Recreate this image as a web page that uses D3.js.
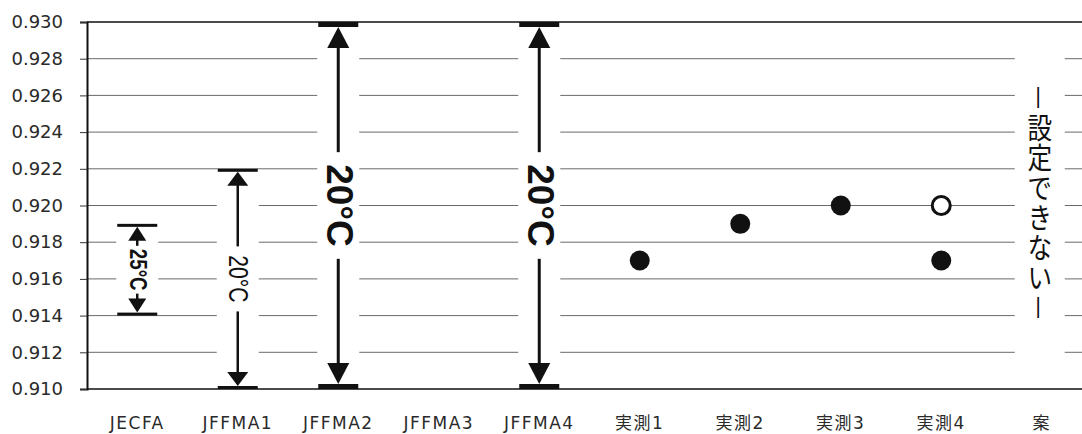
<!DOCTYPE html>
<html><head><meta charset="utf-8">
<script src="https://cdn.jsdelivr.net/npm/d3@7"></script>
<style>
html,body{margin:0;padding:0;background:#fff;}
svg{display:block;}
</style></head>
<body><svg id="c" width="1082" height="434"></svg>
<script>
// ---- data ----
const categories = ["JECFA","JFFMA1","JFFMA2","JFFMA3","JFFMA4","実測1","実測2","実測3","実測4","案"];
const rangeCats  = ["JECFA","JFFMA1","JFFMA2","JFFMA4"];
const rangeLow   = [0.914, 0.910, 0.910, 0.910];
const rangeHigh  = [0.919, 0.922, 0.930, 0.930];
const rangeLabel = ["25°C","20°C","20°C","20°C"];
const pointCats   = ["実測1","実測2","実測3","実測4","実測4"];
const pointValues = [0.917, 0.919, 0.920, 0.917, 0.920];
const pointFilled = [true, true, true, true, false];
const yTicks = [0.910,0.912,0.914,0.916,0.918,0.920,0.922,0.924,0.926,0.928,0.930];
const noteCat = "案";
const noteText = "－設定できない－";

// ---- styles per range annotation ----
const rangeStyle = {
  "JECFA":  {bar:3, lw:2.5, tw:18, th:14, fs:24, sx:0.78, weight:"bold",   gap:3},
  "JFFMA1": {bar:3, lw:2.5, tw:21, th:14, fs:27, sx:0.78, weight:"normal", gap:9},
  "JFFMA2": {bar:5, lw:3,   tw:22, th:21, fs:37, sx:1,    weight:"bold",   gap:12},
  "JFFMA4": {bar:5, lw:3,   tw:22, th:21, fs:37, sx:1,    weight:"bold",   gap:12}
};

const svg = d3.select("#c");
const x = d3.scaleBand().domain(categories).range([87, 1092]).padding(0);
const y = d3.scaleLinear().domain([0.910, 0.930]).range([389, 22]);
const cx = c => x(c) + x.bandwidth()/2;

// gridlines
svg.append("g").selectAll("line").data(yTicks).join("line")
  .attr("x1", 87).attr("x2", 1082)
  .attr("y1", d => y(d)).attr("y2", d => y(d))
  .attr("stroke", d => (d === 0.930 || d === 0.910) ? "#111" : "#6a6a6a")
  .attr("stroke-width", d => (d === 0.930 || d === 0.910) ? 1.6 : 1);

// y axis
const yAxis = d3.axisLeft(y).tickValues(yTicks).tickFormat(d3.format(".3f")).tickSize(7).tickPadding(17);
const ga = svg.append("g").attr("transform","translate(87,0)").call(yAxis);
ga.select(".domain").attr("stroke","#111").attr("stroke-width",2);
ga.selectAll(".tick line").attr("stroke","#333");
ga.selectAll(".tick text").attr("font-family","'DejaVu Sans', sans-serif").attr("font-size",18).attr("fill","#2a2a2a");

// x axis labels
const xAxis = d3.axisBottom(x).tickSize(0).tickPadding(28);
const gx = svg.append("g").attr("transform","translate(0,389)").call(xAxis);
gx.select(".domain").remove();
gx.selectAll(".tick text").attr("font-family","'DejaVu Sans','Noto Sans CJK JP', sans-serif").attr("font-size",17)
  .attr("letter-spacing",1.5).attr("fill","#2a2a2a");

// range annotations
rangeCats.forEach((c, i) => {
  const s = rangeStyle[c];
  const xc = cx(c);
  const yt = y(rangeHigh[i]), yb = y(rangeLow[i]);
  const g = svg.append("g");
  // white box hiding gridlines
  g.append("rect").attr("x", xc-21).attr("y", yt+1).attr("width", 42).attr("height", yb-yt-2).attr("fill","#fff");
  // end bars
  g.append("rect").attr("x", xc-20).attr("y", yt).attr("width", 40).attr("height", s.bar).attr("fill","#111");
  g.append("rect").attr("x", xc-20).attr("y", yb-s.bar).attr("width", 40).attr("height", s.bar).attr("fill","#111");
  // arrowheads
  const a1 = yt + s.bar, a2 = yb - s.bar;
  g.append("path").attr("d", `M${xc},${a1} L${xc-s.tw/2},${a1+s.th} L${xc+s.tw/2},${a1+s.th} Z`).attr("fill","#111");
  g.append("path").attr("d", `M${xc},${a2} L${xc-s.tw/2},${a2-s.th} L${xc+s.tw/2},${a2-s.th} Z`).attr("fill","#111");
  // label
  const ym = (yt + yb)/2;
  const t = g.append("text").attr("transform", `translate(${xc+1},${ym}) rotate(90) scale(${s.sx},1)`)
    .attr("text-anchor","middle").attr("dominant-baseline","central")
    .attr("font-family","'Liberation Sans', Arial, sans-serif").attr("font-size", s.fs).attr("font-weight", s.weight)
    .attr("fill","#111").text(rangeLabel[i]);
  const len = t.node().getComputedTextLength() * s.sx;
  // shaft in two parts
  g.append("line").attr("x1",xc).attr("x2",xc).attr("y1",a1+s.th-1).attr("y2",ym-len/2-s.gap).attr("stroke","#111").attr("stroke-width",s.lw);
  g.append("line").attr("x1",xc).attr("x2",xc).attr("y1",ym+len/2+s.gap).attr("y2",a2-s.th+1).attr("stroke","#111").attr("stroke-width",s.lw);
});

// measured points
pointCats.forEach((c, i) => {
  svg.append("circle").attr("cx", cx(c)).attr("cy", y(pointValues[i])).attr("r", pointFilled[i] ? 10 : 9)
    .attr("fill", pointFilled[i] ? "#111" : "#fff")
    .attr("stroke","#111").attr("stroke-width", pointFilled[i] ? 0 : 3);
});

// note text
const nx = cx(noteCat) - 2;
svg.append("rect").attr("x", nx-25).attr("y", y(0.9285)).attr("width", 50).attr("height", y(0.9115)-y(0.9285)).attr("fill","#fff");
svg.append("text").attr("transform", `translate(${nx},203) scale(0.85,1)`)
  .style("writing-mode","vertical-rl")
  .attr("text-anchor","middle")
  .attr("font-family","'Noto Sans CJK JP', sans-serif").attr("font-size",29).attr("letter-spacing",1)
  .attr("fill","#111").text(noteText);
</script>
</body></html>
